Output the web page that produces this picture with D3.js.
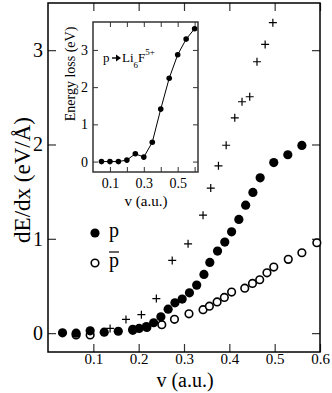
<!DOCTYPE html>
<meta charset="utf-8" />
<style>
  body { margin: 0; background: white; }
  svg text { font-family: "Liberation Serif", "Times New Roman", Times, "DejaVu Serif", serif !important; fill: #000; }
</style>
<body>
<svg id="chart" width="332" height="393"></svg>
</body>
<script src="https://d3js.org/d3.v7.min.js"></script>
<script>
  // main panel: stopping power vs velocity
  const pV = [0.032, 0.062, 0.093, 0.124, 0.155, 0.187, 0.201, 0.217, 0.233, 0.249, 0.265, 0.280, 0.296,
    0.312, 0.328, 0.344, 0.357, 0.374, 0.390, 0.405, 0.421, 0.436, 0.452, 0.468, 0.498, 0.529, 0.560];
  const pE = [0.003, 0.0, 0.024, 0.01, 0.02, 0.04, 0.05, 0.07, 0.11, 0.173, 0.254, 0.321, 0.361,
    0.427, 0.509, 0.622, 0.750, 0.870, 0.965, 1.074, 1.206, 1.357, 1.492, 1.647, 1.808, 1.891, 1.990];

  const pbarV = [0.062, 0.093, 0.187, 0.218, 0.251, 0.279, 0.311, 0.342, 0.356, 0.373, 0.389, 0.405, 0.434,
    0.451, 0.467, 0.483, 0.498, 0.530, 0.560, 0.593];
  const pbarE = [-0.02, -0.02, 0.03, 0.06, 0.09, 0.146, 0.205, 0.249, 0.286, 0.331, 0.379, 0.435, 0.477,
    0.527, 0.566, 0.639, 0.700, 0.782, 0.852, 0.958];

  const plusV = [0.137, 0.172, 0.206, 0.239, 0.274, 0.309, 0.342, 0.359, 0.376, 0.393, 0.412, 0.428, 0.445,
    0.461, 0.479, 0.496];
  const plusE = [0.05, 0.145, 0.196, 0.366, 0.771, 0.947, 1.251, 1.538, 1.774, 1.992, 2.283, 2.453, 2.506,
    2.877, 3.061, 3.291];

  const xTicks = [0.1, 0.2, 0.3, 0.4, 0.5, 0.6];
  const yTicks = [0, 1, 2, 3];

  // inset: energy loss p -> Li6F5+
  const insetV = [0.05, 0.10, 0.15, 0.20, 0.25, 0.30, 0.35, 0.40, 0.45, 0.50, 0.55, 0.60];
  const insetE = [0.0, 0.0, 0.0, 0.04, 0.21, 0.12, 0.52, 1.41, 2.24, 2.87, 3.29, 3.57];
  const insetXTicks = [0.1, 0.2, 0.3, 0.4, 0.5, 0.6];
  const insetXLabels = [0.1, 0.3, 0.5];
  const insetYTicks = [0, 1, 2, 3];

  const svg = d3.select("#chart");

  // main frame
  const L = 48, R = 320, T = 3, B = 352;
  const x = d3.scaleLinear().domain([0, 0.6]).range([L, R]);
  const y = d3.scaleLinear().domain([-0.2, 3.5]).range([B, T]);
  const tk = 8;

  const axes = svg.append("g");
  // inward ticks on all four sides, labels on bottom and left
  const xb = axes.append("g").attr("transform", `translate(0,${B})`)
    .call(d3.axisBottom(x).tickValues(xTicks).tickSize(-tk).tickFormat(d3.format(".1f")).tickPadding(1));
  axes.append("g").attr("transform", `translate(0,${T})`)
    .call(d3.axisTop(x).tickValues(xTicks).tickSize(-tk).tickFormat(""));
  const yl = axes.append("g").attr("transform", `translate(${L},0)`)
    .call(d3.axisLeft(y).tickValues(yTicks).tickSize(-tk).tickFormat(d3.format("d")).tickPadding(5));
  axes.append("g").attr("transform", `translate(${R},0)`)
    .call(d3.axisRight(y).tickValues(yTicks).tickSize(-tk).tickFormat(""));
  axes.selectAll(".domain").remove();
  axes.selectAll(".tick line").attr("stroke", "#333").attr("stroke-width", 1.2);
  xb.selectAll(".tick text").style("font-size", "15px");
  yl.selectAll(".tick text").style("font-size", "20px");

  svg.append("rect")
    .attr("x", L).attr("y", T).attr("width", R - L).attr("height", B - T)
    .attr("fill", "none").attr("stroke", "#000").attr("stroke-width", 1.5);

  // axis titles
  svg.append("text")
    .attr("x", 185).attr("y", 387)
    .attr("text-anchor", "middle").style("font-size", "20px")
    .text("v (a.u.)");
  svg.append("text")
    .attr("transform", `translate(30,180) rotate(-90)`)
    .attr("text-anchor", "middle").style("font-size", "23px")
    .text("dE/dx (eV/Å)");

  // data marks: crosses first, then circles
  const plusPts = plusV.map((v, i) => ({ v, e: plusE[i] }));
  const pPts = pV.map((v, i) => ({ v, e: pE[i] }));
  const pbarPts = pbarV.map((v, i) => ({ v, e: pbarE[i] }));

  svg.append("g").selectAll("path").data(plusPts).join("path")
    .attr("transform", d => `translate(${x(d.v)},${y(d.e)})`)
    .attr("d", "M-4,0H4M0,-4V4")
    .attr("stroke", "#000").attr("stroke-width", 1.2).attr("fill", "none");

  svg.append("g").selectAll("circle").data(pbarPts).join("circle")
    .attr("cx", d => x(d.v)).attr("cy", d => y(d.e)).attr("r", 3.8)
    .attr("fill", "white").attr("stroke", "#000").attr("stroke-width", 1.6);

  svg.append("g").selectAll("circle").data(pPts).join("circle")
    .attr("cx", d => x(d.v)).attr("cy", d => y(d.e)).attr("r", 4.6)
    .attr("fill", "#000");

  // legend
  const leg = svg.append("g");
  leg.append("circle").attr("cx", 95).attr("cy", 233).attr("r", 4.6).attr("fill", "#000");
  leg.append("text").attr("x", 109).attr("y", 237).style("font-size", "20px").text("p");
  leg.append("circle").attr("cx", 95).attr("cy", 263).attr("r", 3.8)
    .attr("fill", "white").attr("stroke", "#000").attr("stroke-width", 1.6);
  leg.append("text").attr("x", 109).attr("y", 267).style("font-size", "20px").text("p");
  leg.append("line").attr("x1", 109).attr("x2", 119).attr("y1", 252).attr("y2", 252)
    .attr("stroke", "#000").attr("stroke-width", 1.2);

  // inset
  const iL = 93, iR = 198, iT = 22, iB = 172;
  const ix = d3.scaleLinear().domain([0, 0.62]).range([iL, iR]);
  const iy = d3.scaleLinear().domain([-0.28, 3.75]).range([iB, iT]);
  const itk = 5;

  svg.append("rect")
    .attr("x", iL).attr("y", iT).attr("width", iR - iL).attr("height", iB - iT)
    .attr("fill", "white").attr("stroke", "none");

  const ia = svg.append("g");
  ia.append("g").attr("transform", `translate(0,${iB})`)
    .call(d3.axisBottom(ix).tickValues(insetXTicks).tickSize(-itk)
      .tickFormat(d => insetXLabels.includes(d) ? d3.format(".1f")(d) : "").tickPadding(6));
  ia.append("g").attr("transform", `translate(0,${iT})`)
    .call(d3.axisTop(ix).tickValues(insetXTicks).tickSize(-itk).tickFormat(""));
  ia.append("g").attr("transform", `translate(${iL},0)`)
    .call(d3.axisLeft(iy).tickValues(insetYTicks).tickSize(-itk).tickFormat(d3.format("d")).tickPadding(5));
  ia.append("g").attr("transform", `translate(${iR},0)`)
    .call(d3.axisRight(iy).tickValues(insetYTicks).tickSize(-itk).tickFormat(""));
  ia.selectAll(".domain").remove();
  ia.selectAll(".tick line").attr("stroke", "#333").attr("stroke-width", 1);
  ia.selectAll(".tick text").style("font-size", "14px");

  svg.append("rect")
    .attr("x", iL).attr("y", iT).attr("width", iR - iL).attr("height", iB - iT)
    .attr("fill", "none").attr("stroke", "#333").attr("stroke-width", 1.5);

  const insetPts = insetV.map((v, i) => ({ v, e: insetE[i] }));
  svg.append("path").datum(insetPts)
    .attr("d", d3.line().x(d => ix(d.v)).y(d => iy(d.e)))
    .attr("fill", "none").attr("stroke", "#000").attr("stroke-width", 1);
  svg.append("g").selectAll("circle").data(insetPts).join("circle")
    .attr("cx", d => ix(d.v)).attr("cy", d => iy(d.e)).attr("r", 2.8).attr("fill", "#000");

  svg.append("text")
    .attr("x", 146).attr("y", 206)
    .attr("text-anchor", "middle").style("font-size", "15px")
    .text("v (a.u.)");
  svg.append("text")
    .attr("transform", `translate(75,74) rotate(-90)`)
    .attr("text-anchor", "middle").style("font-size", "14px")
    .text("Energy loss (eV)");

  // reaction label p -> Li6 F5+
  const lab = svg.append("g").attr("transform", "translate(103,62)");
  lab.append("text").attr("x", 0).attr("y", 0).style("font-size", "13px").text("p");
  lab.append("line").attr("x1", 9).attr("x2", 16).attr("y1", -4).attr("y2", -4)
    .attr("stroke", "#000").attr("stroke-width", 1.4);
  lab.append("path").attr("d", "M13,-7.5L18,-4L13,-0.5Z").attr("fill", "#000");
  const t = lab.append("text").attr("x", 19).attr("y", 0).style("font-size", "13px");
  t.append("tspan").text("Li");
  t.append("tspan").attr("dy", 6).style("font-size", "9px").text("6");
  t.append("tspan").attr("dy", -6).text("F");
  t.append("tspan").attr("dy", -7).style("font-size", "9px").text("5+");
</script>
